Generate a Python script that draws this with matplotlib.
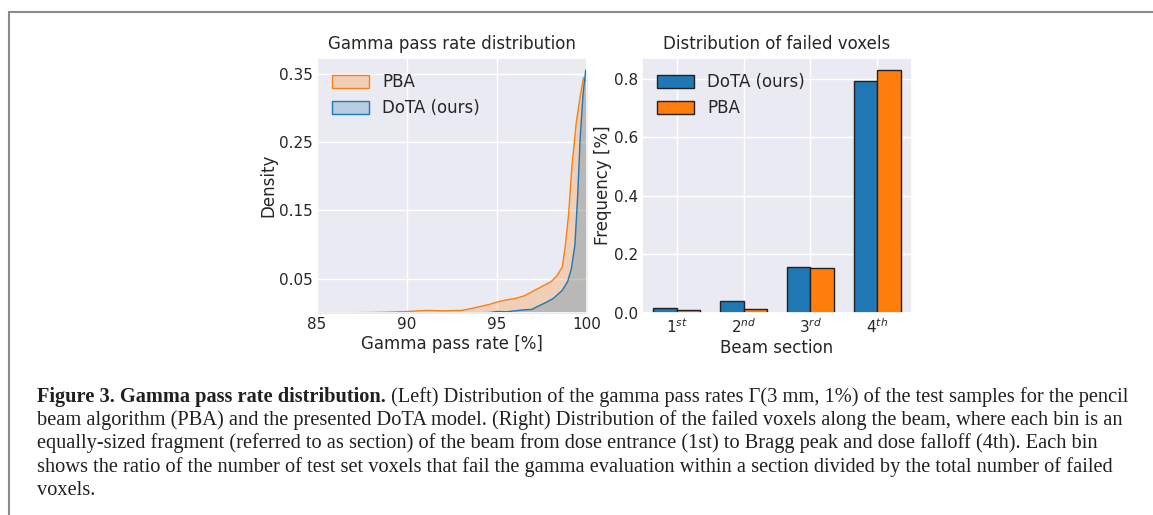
import matplotlib
matplotlib.use("Agg")
import matplotlib.pyplot as plt
import seaborn as sns
import numpy as np
from matplotlib.lines import Line2D
from matplotlib.patches import Patch
from matplotlib.colors import to_rgba

# left panel: KDE of gamma pass rates
pba_x = [85, 86, 87, 88, 89, 90, 91, 92, 93, 93.5, 94, 94.5, 95, 95.5, 96, 96.5,
         97, 97.5, 98, 98.3, 98.6, 98.76, 98.95, 99.13, 99.37, 99.59, 99.78, 99.9, 100]
pba_y = [0.0005, 0.001, 0.0012, 0.0015, 0.002, 0.003, 0.0045, 0.004, 0.0045, 0.007,
         0.010, 0.013, 0.017, 0.020, 0.022, 0.026, 0.033, 0.040, 0.047, 0.055, 0.068,
         0.097, 0.145, 0.214, 0.278, 0.317, 0.345, 0.341, 0.337]
dota_x = [85, 90, 94, 94.6, 95, 95.5, 96, 96.5, 96.9, 97.2, 97.6, 98.1, 98.6, 98.9,
          99.1, 99.3, 99.45, 99.6, 99.75, 99.9, 100]
dota_y = [0.0, 0.0005, 0.001, 0.0015, 0.003, 0.0025, 0.004, 0.0055, 0.006, 0.010,
          0.015, 0.022, 0.034, 0.047, 0.065, 0.10, 0.17, 0.26, 0.32, 0.356, 0.344]

# right panel: share of failed voxels per beam section
sections = ["$1^{st}$", "$2^{nd}$", "$3^{rd}$", "$4^{th}$"]
dota_freq = [0.017, 0.041, 0.158, 0.793]
pba_freq = [0.009, 0.014, 0.155, 0.830]

blue = "#1f77b4"
orange = "#ff7f0e"

sns.set_theme(style="darkgrid")
plt.rcParams["font.family"] = ["DejaVu Sans"]
plt.rcParams["mathtext.fontset"] = "dejavusans"

fig = plt.figure(figsize=(11.53, 5.15), dpi=100)
ax1 = fig.add_axes([0.2749, 0.3922, 0.2342, 0.4952])
ax2 = fig.add_axes([0.5568, 0.3922, 0.2342, 0.4952])

# left
ax1.fill_between(pba_x, pba_y, facecolor=to_rgba(orange, 0.25), edgecolor=orange, lw=1)
ax1.fill_between(dota_x, dota_y, facecolor=to_rgba(blue, 0.25), edgecolor=blue, lw=1)
ax1.set_xlim(85, 100)
ax1.set_ylim(0, 0.373)
ax1.set_xticks([85, 90, 95, 100])
ax1.set_yticks([0.05, 0.15, 0.25, 0.35])
ax1.tick_params(labelsize=11, pad=3, length=0)
ax1.set_xlabel("Gamma pass rate [%]", fontsize=12, labelpad=2)
ax1.set_ylabel("Density", fontsize=12, labelpad=1)
ax1.set_title("Gamma pass rate distribution", fontsize=12, pad=6.5)
handles = [Patch(facecolor=to_rgba(orange, 0.25), edgecolor=orange, label="PBA"),
           Patch(facecolor=to_rgba(blue, 0.25), edgecolor=blue, label="DoTA (ours)")]
ax1.legend(handles=handles, loc="upper left", frameon=False, fontsize=12,
           handlelength=2.2, handleheight=0.8)

# right
pos = np.arange(len(sections))
w = 0.35
ax2.bar(pos - w / 2, dota_freq, w, color=blue, edgecolor="#222222", lw=1, label="DoTA (ours)")
ax2.bar(pos + w / 2, pba_freq, w, color=orange, edgecolor="#222222", lw=1, label="PBA")
ax2.set_xticks(pos)
ax2.set_xticklabels(sections)
ax2.set_xlim(-0.52, 3.52)
ax2.set_ylim(0, 0.8706)
ax2.set_yticks([0.0, 0.2, 0.4, 0.6, 0.8])
ax2.tick_params(labelsize=11, pad=3, length=0)
ax2.set_xlabel("Beam section", fontsize=12, labelpad=2)
ax2.set_ylabel("Frequency [%]", fontsize=12, labelpad=1)
ax2.set_title("Distribution of failed voxels", fontsize=12, pad=6.5)
ax2.legend(loc="upper left", frameon=False, fontsize=12, handlelength=2.2, handleheight=0.8)

# frame lines of the page box
W, H = 1153, 515
fig.add_artist(Line2D([8.5 / W, 1], [1 - 12 / H, 1 - 12 / H], color="#8a8a8a", lw=1.5))
fig.add_artist(Line2D([8.5 / W, 8.5 / W], [0, 1 - 12 / H], color="#8a8a8a", lw=1.5))

# caption
serif = "Liberation Serif"
bold_part = "Figure 3. Gamma pass rate distribution."
lines = [
    " (Left) Distribution of the gamma pass rates \u0393(3 mm, 1%) of the test samples for the pencil",
    "beam algorithm (PBA) and the presented DoTA model. (Right) Distribution of the failed voxels along the beam, where each bin is an",
    "equally-sized fragment (referred to as section) of the beam from dose entrance (1st) to Bragg peak and dose falloff (4th). Each bin",
    "shows the ratio of the number of test set voxels that fail the gamma evaluation within a section divided by the total number of failed",
    "voxels.",
]
baselines = [402, 425, 448, 472, 495]
x0 = 37 / W

renderer = fig.canvas.get_renderer()
probe = fig.text(x0, 0.5, lines[1], fontsize=13, family=serif)
size = 13 * 1081 / probe.get_window_extent(renderer).width
probe.remove()

tb = fig.text(x0, 1 - baselines[0] / H, bold_part, fontsize=size, family=serif,
              weight="bold", va="baseline", color="#231f20")
x1 = tb.get_window_extent(renderer).x1 / W
fig.text(x1, 1 - baselines[0] / H, lines[0], fontsize=size, family=serif,
         va="baseline", color="#231f20")
for line, b in zip(lines[1:], baselines[1:]):
    fig.text(x0, 1 - b / H, line, fontsize=size, family=serif, va="baseline", color="#231f20")

fig.savefig("out.png", dpi=100)
plt.close(fig)
